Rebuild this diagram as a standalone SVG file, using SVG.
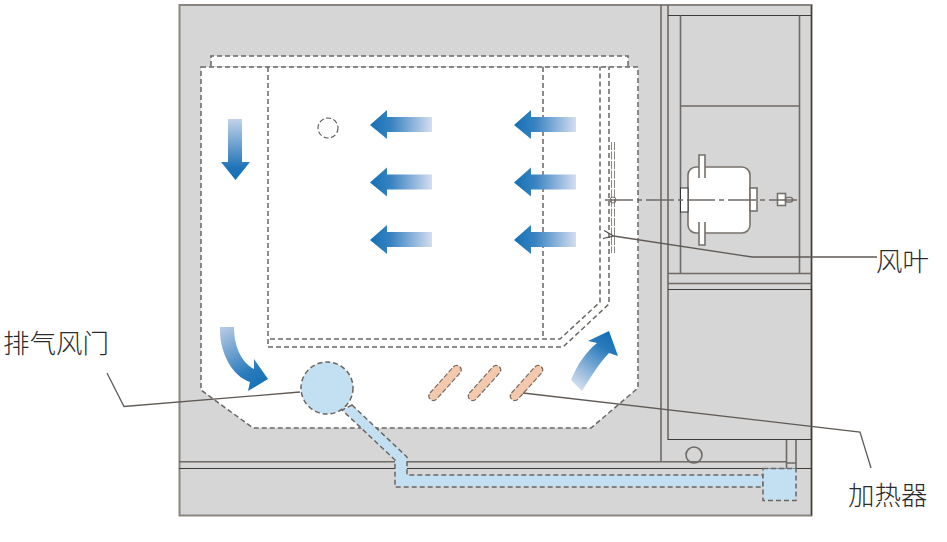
<svg xmlns="http://www.w3.org/2000/svg" width="947" height="542" viewBox="0 0 947 542">
<style>
.ln{fill:none;stroke:#6f6a65;stroke-width:1.6}
.dk{fill:none;stroke:#3f3b39;stroke-width:1.2}
.ld{fill:none;stroke:#5f5a56;stroke-width:1.3}
.ds{stroke:#6b6661;stroke-width:1.5;stroke-dasharray:5 3}
.wh{fill:#fff}
.bl{fill:#c2e0f2}
.ht{fill:#f3c9ad}
.lb{font-family:"Noto Sans CJK SC","Noto Sans CJK JP",sans-serif;font-size:26.500px;font-weight:300;fill:#2b2b2b}
.mt{fill:#fff;stroke:#77716c;stroke-width:1.6}
</style>
<defs>
<linearGradient id="gl" x1="0" x2="1" y1="0" y2="0"><stop offset="0" stop-color="#1270b6"/><stop offset="0.35" stop-color="#3a84c2"/><stop offset="1" stop-color="#d3deef"/></linearGradient>
<linearGradient id="gd" x1="0" x2="0" y1="0" y2="1"><stop offset="0" stop-color="#c3d2e9"/><stop offset="0.8" stop-color="#1e74b8"/><stop offset="1" stop-color="#1270b6"/></linearGradient>
<linearGradient id="gu" gradientUnits="userSpaceOnUse" x1="576" y1="386" x2="610" y2="334"><stop offset="0" stop-color="#d3deef"/><stop offset="0.75" stop-color="#2a7bbc"/><stop offset="1" stop-color="#1270b6"/></linearGradient>
<linearGradient id="gc" gradientUnits="userSpaceOnUse" x1="226" y1="327" x2="262" y2="388"><stop offset="0" stop-color="#b4c8e4"/><stop offset="0.7" stop-color="#2a7bbc"/><stop offset="1" stop-color="#1270b6"/></linearGradient>
<path id="la" d="M0 0L17 -15V-8H62V7H17V14Z" fill="url(#gl)"/>
<marker id="op" viewBox="0 0 12 10" refX="1" refY="5" markerWidth="12" markerHeight="10" markerUnits="userSpaceOnUse" orient="auto"><path d="M11 1L1 5L11 9" fill="none" stroke="#4a4643" stroke-width="1.1"/></marker>
</defs>

<g id="cabinet">
<rect x="179.500" y="5" width="632" height="510.500" fill="#d6d6d6" stroke="#8a8580" stroke-width="2"/>
<path class="dk" d="M811.500 5V515.500"/>
<path class="ln" d="M661 5V462M668 5V440"/>
<path class="dk" d="M668 15.500H811.500"/>
<path class="ln" d="M680.500 15.500V273M799.500 15.500V273M680.500 106H799.500"/>
<path class="ln" d="M668 273.500H811.500M668 283.500H811.500"/>
<path class="dk" d="M668 289.500H811.500V439.500H668"/>
<path class="ln" d="M179 461.700H786.500M786.500 440V468M796 440V468M786.500 463H796"/>
<path class="dk" d="M179 468.500H811.500"/>
<circle cx="694" cy="455" r="8" class="ln"/>
</g>

<g id="chamber">
<path class="wh ds" d="M211 66V56H628V66"/>
<path class="wh ds" d="M201 67H638V388L591 428H253L201 390Z"/>
<path fill="none" class="ds" d="M268 67V347H563L609 304V67"/>
<path fill="none" class="ds" d="M270 339H560L600 302V67"/>
<path fill="none" class="ds" d="M543 67V339"/>
<circle cx="328" cy="128" r="10" class="wh" stroke="#555" stroke-width="1.100" stroke-dasharray="5 2.500"/>
</g>

<g id="flow-arrows">
<use href="#la" x="370" y="125"/>
<use href="#la" x="370" y="182.500"/>
<use href="#la" x="370" y="240"/>
<use href="#la" x="514" y="125"/>
<use href="#la" x="514" y="182.500"/>
<use href="#la" x="514" y="240"/>
<path d="M228 119H242V162H250L235.500 180L221 162H228Z" fill="url(#gd)"/>
<path d="M220 327H234C234 350 244 364 254 369L254 359L268 379L248 391L250 382C232 376 219 352 220 327Z" fill="url(#gc)"/>
<path d="M571 380C577 365 586 352 597 343L588 341L609 331L618 356L609 353C599 363 591 377 582 391Z" fill="url(#gu)"/>
</g>

<g id="heaters">
<rect x="-22" y="-4.500" width="44" height="9" rx="4.500" transform="translate(445 383) rotate(-48)" class="ht" stroke="#7a6a60" stroke-width="1.200" stroke-dasharray="5 2"/>
<rect x="-22" y="-4.500" width="44" height="9" rx="4.500" transform="translate(484.500 383) rotate(-48)" class="ht" stroke="#7a6a60" stroke-width="1.200" stroke-dasharray="5 2"/>
<rect x="-22" y="-4.500" width="44" height="9" rx="4.500" transform="translate(526.500 383) rotate(-48)" class="ht" stroke="#7a6a60" stroke-width="1.200" stroke-dasharray="5 2"/>
</g>

<g id="exhaust-damper">
<path class="bl ds" d="M352 405L407 457V475H763V487H395V460L342 410Z"/>
<rect x="763" y="468.500" width="33" height="32" class="bl ds"/>
<circle cx="327" cy="388" r="26" class="bl ds"/>
</g>

<g id="motor">
<rect x="688" y="167" width="62" height="66" rx="8" class="mt"/>
<rect x="680.500" y="188" width="7.500" height="24" fill="#fff" stroke="#333" stroke-width="1"/>
<rect x="750" y="188" width="7" height="23" class="mt" stroke-width="1"/>
<path class="mt" d="M699 178V155H705V178"/>
<path class="mt" d="M699 222V245H705V222"/>
<rect x="777.500" y="193.500" width="8" height="12" class="mt"/>
<rect x="785.500" y="197.500" width="7" height="4.500" rx="2" class="mt" stroke-width="1.200"/>
<path fill="none" stroke="#6f6a65" stroke-width="0.800" stroke-dasharray="8 1.500" d="M611.500 142V253M614.500 142V253"/>
<circle cx="613" cy="200" r="3" fill="none" stroke="#6f6a65" stroke-width="1"/>
<path fill="none" stroke="#6f6a65" stroke-width="1.500" stroke-dasharray="28 4 5 4" d="M605 200H797"/>
</g>

<g id="connectors">
<path class="ld" d="M877 257H752L613.500 236" marker-end="url(#op)"/>
<path class="ld" d="M107 373L124 406.500L300 392"/>
<path class="ld" d="M523 393L860 432L871 468"/>
</g>

<g id="labels">
<text class="lb" x="876" y="271">风叶</text>
<text class="lb" x="3" y="353">排气风门</text>
<text class="lb" x="848" y="505">加热器</text>
</g>
</svg>
